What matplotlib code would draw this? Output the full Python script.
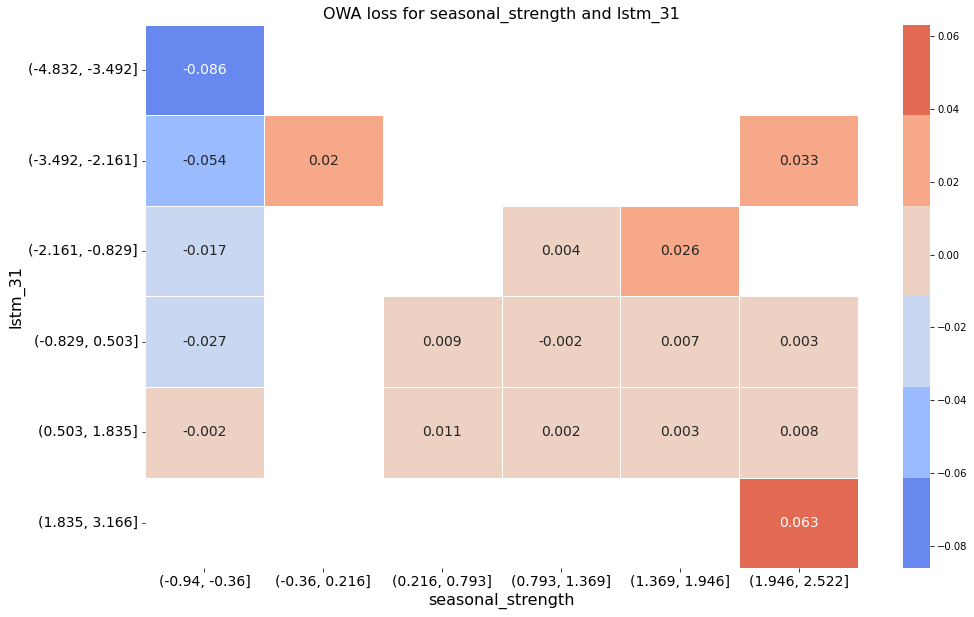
import numpy as np
import matplotlib
matplotlib.use("Agg")
import matplotlib.pyplot as plt
import seaborn as sns
import pandas as pd

row_labels = ["(-4.832, -3.492]", "(-3.492, -2.161]", "(-2.161, -0.829]",
              "(-0.829, 0.503]", "(0.503, 1.835]", "(1.835, 3.166]"]
col_labels = ["(-0.94, -0.36]", "(-0.36, 0.216]", "(0.216, 0.793]",
              "(0.793, 1.369]", "(1.369, 1.946]", "(1.946, 2.522]"]
nan = np.nan
row0 = [-0.086, nan, nan, nan, nan, nan]
row1 = [-0.054, 0.02, nan, nan, nan, 0.033]
row2 = [-0.017, nan, nan, 0.004, 0.026, nan]
row3 = [-0.027, nan, 0.009, -0.002, 0.007, 0.003]
row4 = [-0.002, nan, 0.011, 0.002, 0.003, 0.008]
row5 = [nan, nan, nan, nan, nan, 0.063]

df = pd.DataFrame([row0, row1, row2, row3, row4, row5], index=row_labels, columns=col_labels)

DPI = 72
fig = plt.figure(figsize=(974 / DPI, 617 / DPI), dpi=DPI)
ax = fig.add_axes([0.1489, 0.0794, 0.732, 0.8801])
cax = fig.add_axes([0.927, 0.0794, 0.0277, 0.8801])
cmap = matplotlib.colors.ListedColormap(sns.color_palette("coolwarm", 6))
sns.heatmap(df, ax=ax, cbar_ax=cax, cmap=cmap, annot=True, fmt="g",
            annot_kws={"fontsize": 14}, linewidths=1, linecolor="white")
ax.set_title("OWA loss for seasonal_strength and lstm_31", fontsize=16)
ax.set_xlabel("seasonal_strength", fontsize=16)
ax.set_ylabel("lstm_31", fontsize=16)
ax.tick_params(axis="both", labelsize=14)
plt.setp(ax.get_xticklabels(), rotation=0)
plt.setp(ax.get_yticklabels(), rotation=0)
cax.tick_params(labelsize=10)
fig.savefig("out.png", dpi=DPI)
